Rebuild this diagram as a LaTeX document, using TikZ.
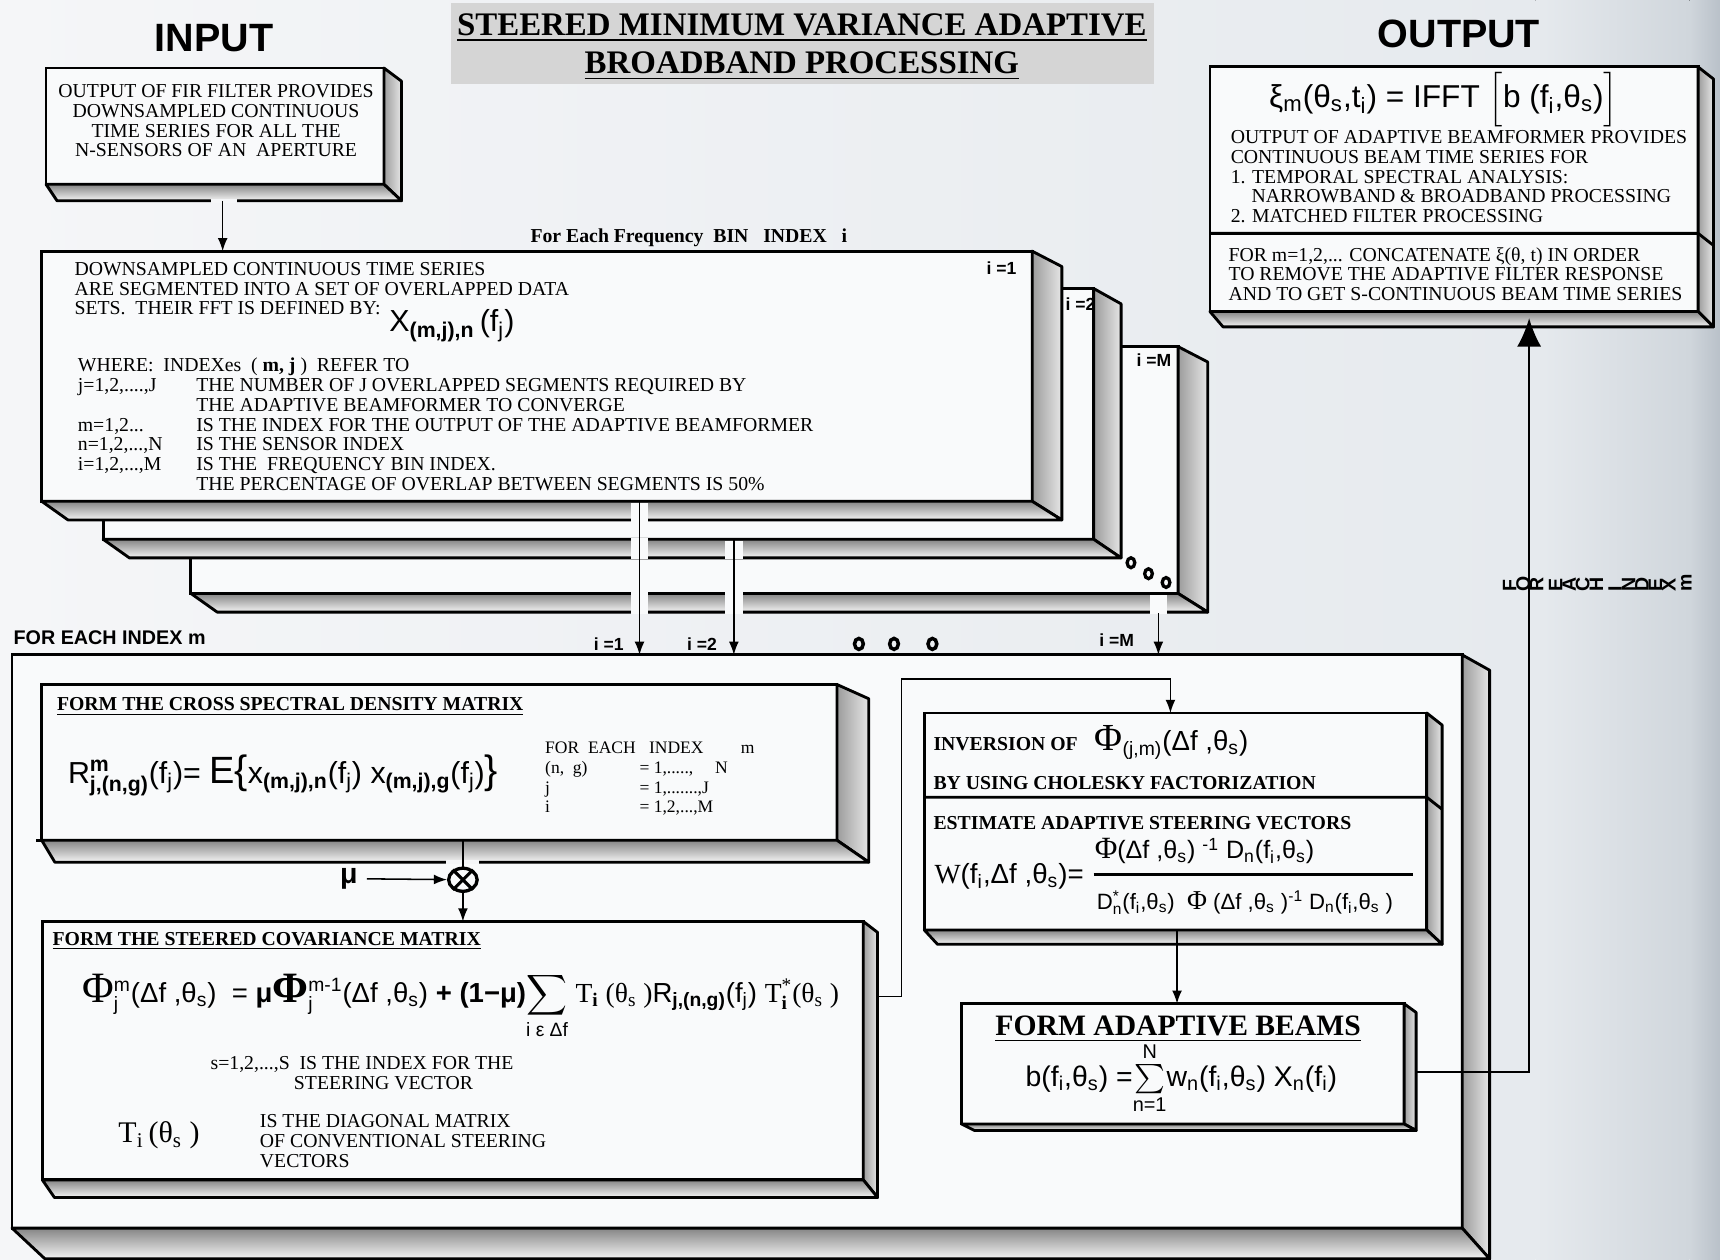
\documentclass[tikz,border=0pt]{standalone}
\usepackage{fontspec}
\setmainfont{Liberation Serif}
\newfontfamily\sfA{Liberation Sans}
\newfontfamily\rmA{Liberation Serif}
\usepackage{amsmath}
\usepackage{graphicx}
\usetikzlibrary{arrows.meta,calc,fit,shapes.geometric}

\definecolor{bgA}{HTML}{F5F6F8}
\definecolor{bgB}{HTML}{E6EAEE}
\definecolor{bgC}{HTML}{D0D6DC}
\definecolor{bgD}{HTML}{B9C1C9}
\definecolor{faceC}{HTML}{F9FAFB}
\definecolor{slabT}{HTML}{858585}
\definecolor{slabB}{HTML}{F4F4F4}
\definecolor{slabL}{HTML}{9C9C9C}
\definecolor{slabR}{HTML}{E6E6E6}
\definecolor{titleC}{HTML}{D5D5D5}

\newcommand\myb[1]{$_{\text{#1}}$}
\newcommand\myp[1]{$^{\text{#1}}$}
\newcommand\mybp[2]{$^{\text{#1}}_{\text{#2}}$}
\newcommand\rl[1]{\rotatebox{90}{#1}}
\newcommand\bigphi{{\rmA\fontsize{22}{22}\selectfont Φ}}
\newcommand\midphi{{\rmA\fontsize{18}{18}\selectfont Φ}}

\tikzset{
 face/.style={draw, line width=1.3pt, fill=faceC, inner sep=0pt, outer sep=0pt},
 sideslab/.style={draw, line width=1.3pt, line join=round, left color=slabL, right color=slabR},
 botslab/.style={draw, line width=1.3pt, line join=round, top color=slabT, bottom color=slabB},
 txt/.style={inner sep=0pt, outer sep=0pt, font=\fontsize{9}{9}\selectfont, anchor=base west},
 hdr/.style={inner sep=0pt, outer sep=0pt, font=\fontsize{9}{9}\selectfont\bfseries, anchor=base west},
 conn/.style={line width=0.7pt, -{Latex[length=6pt,width=4.5pt]}},
 plainline/.style={line width=0.7pt},
 lbl/.style={inner sep=0pt, font=\sfA\bfseries\fontsize{8}{8}\selectfont},
 frm/.style={inner sep=0pt, outer sep=0pt},
 bigl/.style={inner sep=0pt, font=\sfA\bfseries\fontsize{18}{18}\selectfont},
}

% name, x1, y1, x2, y2, side dx, bevel dy, bottom depth, bottom-left shift
\newcommand\boxthree[9]{%
 \node[face, fit={(#2,#3) (#4,#5)}] (#1) {};
 \draw[sideslab] (#1.north east) -- ++(#6,#7) -- ($(#1.south east)+(#6,#8)$) -- (#1.south east) -- cycle;
 \draw[botslab] (#1.south west) -- (#1.south east) -- ($(#1.south east)+(#6,#8)$) -- ($(#1.south west)+(#9,#8)$) -- cycle;
}

\begin{document}
\begin{tikzpicture}[x=0.5pt,y=-0.5pt]
\useasboundingbox (0,0) rectangle (1568,1148);
\fill[left color=bgA, right color=bgB] (0,0) rectangle (1400,1148);
\fill[left color=bgB, right color=bgC] (1400,0) rectangle (1540,1148);
\fill[left color=bgC, right color=bgD] (1540,0) rectangle (1568,1148);

% title
\fill[titleC] (411,3) rectangle (1052,77);
\node[inner sep=0pt, anchor=base, font=\fontsize{15}{17.5}\selectfont\bfseries] (title) at (731,32)
 {\begin{tabular}[t]{@{}c@{}}\underline{STEERED MINIMUM VARIANCE ADAPTIVE}\\\underline{BROADBAND PROCESSING}\end{tabular}};

\node[bigl] (inlab) at (195,35) {INPUT};
\node[bigl] (outlab) at (1330,31) {OUTPUT};

% output box
\boxthree{outb}{1103}{61}{1548}{284}{14}{11}{14}{12}
\draw[line width=1.3pt] (1103,212.7) -- (1548,212.7) -- ++(14,11);

% input box
\boxthree{inp}{42}{62}{350}{168}{16}{12}{15}{10}

% stack of frequency-bin boxes
\boxthree{s3}{174}{316}{1074}{541}{27}{14}{17}{24}
\boxthree{s2}{94}{263}{997}{491.6}{25}{14}{17}{24}
\boxthree{s1}{38}{229}{941}{457}{27}{14}{17}{24}
\fill[faceC] (575,458.6) rectangle (591,475.5);
\fill[faceC] (575,490) rectangle (591,510);
\fill[faceC] (575,539.5) rectangle (591,559.5);
\fill[faceC] (661,493.2) rectangle (677,510);
\fill[faceC] (661,539.5) rectangle (677,559.5);
\fill[faceC] (1048,542.6) rectangle (1064,559.5);
\foreach \dx/\dy in {1031/513,1047/523,1063/531}
  \draw[line width=1.5pt] (\dx,\dy) ellipse [x radius=3.5, y radius=4.5];

% big box and inner boxes
\boxthree{big}{11}{597}{1333}{1119.6}{25}{14}{28}{30}
\boxthree{csd}{38}{624}{763}{766}{29}{13}{20}{12}
\draw[line width=1.3pt] (33,766) -- (csd.south west);
\boxthree{stc}{38.6}{840}{787}{1075.6}{13}{10}{16}{11}
\boxthree{inv}{842.6}{650}{1300.7}{847.8}{14}{11}{13}{12}
\draw[line width=1.3pt] (842.6,726.8) -- (1300.7,726.8) -- ++(14,11);
\boxthree{bms}{876.4}{915}{1280}{1024.6}{11}{8}{6}{12}

% gaps in slab bottoms
\draw[bgA, line width=2pt] (192,183) -- (216,183);
\draw[bgA, line width=2pt] (407,786) -- (437,786);

% connectors
\coordinate (inpOut) at (203,183);
\draw[conn] (inpOut) -- (inpOut |- s1.north);
\coordinate (xa) at (583,0);
\coordinate (xb) at (669,0);
\coordinate (sMout) at (1056,559);
\draw[conn] (xa |- s1.south) -- (xa |- big.north);
\draw[conn] (xb |- s2.south) -- (xb |- big.north);
\draw[conn] (sMout) -- (sMout |- big.north);

\node[ellipse, draw, line width=1.5pt, minimum width=13pt, minimum height=10.5pt, inner sep=0pt, fill=faceC] (otimes) at (422,802) {};
\draw[line width=1.4pt] (otimes.45) -- (otimes.225) (otimes.135) -- (otimes.315);
\node[inner sep=4pt, font=\sfA\bfseries\fontsize{13}{13}\selectfont] (mu) at (318,801) {μ};
\draw[plainline] (otimes |- csd.south) -- (otimes.north);
\draw[conn] (mu) -- (otimes);
\draw[conn] (otimes.south) -- (otimes.south |- stc.north);

\coordinate (stcOut) at (800,908.5);
\coordinate (bendA) at (822,619);
\coordinate (invx) at (1067,0);
\draw[conn] (stcOut) -| (bendA) -| (invx |- inv.north);
\coordinate (bmx) at (1073,0);
\draw[conn] (bmx |- inv.south) -- (bmx |- bms.north);
\coordinate (bmsOut) at (1291,977);
\coordinate (upx) at (1394,0);
\draw[line width=0.9pt, -{Latex[length=13pt,width=11pt]}] (bmsOut) -| ($(upx |- outb.south)+(0,6)$);

% ---- texts ----
\node[txt, anchor=base] (inT) at (197,89) {\begin{tabular}[t]{@{}c@{}}OUTPUT OF FIR FILTER PROVIDES\\DOWNSAMPLED CONTINUOUS\\TIME SERIES FOR ALL THE\\N-SENSORS OF AN\ \ APERTURE\end{tabular}};

\node[frm] (oF) at (1316,91) {\resizebox{159pt}{!}{\sfA\fontsize{15}{15}\selectfont ξ\myb{m}(θ\myb{s},t\myb{i}) = IFFT $\Big[$b (f\myb{i},θ\myb{s})$\Big]$}};
\node[txt] (oA) at (1122,131) {\begin{tabular}[t]{@{}l@{}}OUTPUT OF ADAPTIVE BEAMFORMER PROVIDES\\CONTINUOUS BEAM TIME SERIES FOR\\1. TEMPORAL SPECTRAL ANALYSIS:\\\hspace*{9.5pt}NARROWBAND \& BROADBAND PROCESSING\\2. MATCHED FILTER PROCESSING\end{tabular}};
\node[txt] (oB) at (1120,238) {\begin{tabular}[t]{@{}l@{}}FOR m=1,2,... CONCATENATE ξ(θ, t) IN ORDER\\TO REMOVE THE ADAPTIVE FILTER RESPONSE\\AND TO GET S-CONTINUOUS BEAM TIME SERIES\end{tabular}};

\node[hdr, anchor=base] (freqH) at (628,221) {For Each Frequency\ \ BIN\ \ \ INDEX\ \ \ i};

\node[lbl] (l1) at (913,244) {i =1};
\node[lbl] (l2) at (985,277) {i =2};
\node[lbl] (l3) at (1052,328) {i =M};

\node[txt] (sA) at (68,251) {\begin{tabular}[t]{@{}l@{}}DOWNSAMPLED CONTINUOUS TIME SERIES\\ARE SEGMENTED INTO A SET OF OVERLAPPED DATA\\SETS.\ \ THEIR FFT IS DEFINED BY:\end{tabular}};
\node[frm] (xF) at (412,297) {\resizebox{57pt}{!}{\sfA\fontsize{13}{13}\selectfont X\myb{\bfseries (m,j),n}\,(f\myb{j})}};
\node[txt] (sB) at (71,339) {\begin{tabular}[t]{@{}p{54pt}@{}l@{}}\multicolumn{2}{@{}l@{}}{WHERE:\ \ INDEXes\ \ ( \textbf{m, j} )\ \ REFER TO}\\
j=1,2,....,J & THE NUMBER OF J OVERLAPPED SEGMENTS REQUIRED BY\\
 & THE ADAPTIVE BEAMFORMER TO CONVERGE\\
m=1,2... & IS THE INDEX FOR THE OUTPUT OF THE ADAPTIVE BEAMFORMER\\
n=1,2,...,N & IS THE SENSOR INDEX\\
i=1,2,...,M & IS THE\ \ FREQUENCY BIN INDEX.\\
 & THE PERCENTAGE OF OVERLAP BETWEEN SEGMENTS IS 50\%\end{tabular}};

\node[lbl, anchor=west, font=\sfA\bfseries\fontsize{9}{9}\selectfont] (forM) at (12,581) {FOR EACH INDEX m};
\node[lbl] (b1) at (555,587) {i =1};
\node[lbl] (b2) at (640,587) {i =2};
\node[lbl] (b3) at (1018,584) {i =M};
\foreach \dx in {783,815,850}
  \draw[line width=1.6pt] (\dx,587) ellipse [x radius=4, y radius=5];

% CSD box
\node[hdr] (csdH) at (52,648) {\underline{FORM THE CROSS SPECTRAL DENSITY MATRIX}};
\node[frm] (csdF) at (258,707) {\resizebox{196pt}{!}{\sfA\fontsize{16}{16}\selectfont R\mybp{\bfseries m}{\bfseries j,(n,g)}(f\myb{j})= \scalebox{1.25}{E}\scalebox{1.3}{\{}x\myb{\bfseries (m,j),n}(f\myb{j}) x\myb{\bfseries (m,j),g}(f\myb{j})\scalebox{1.3}{\}}}};
\node[txt, font=\fontsize{8}{9}\selectfont] (csdR) at (497,687) {\begin{tabular}[t]{@{}p{43pt}@{}l@{}}\multicolumn{2}{@{}l@{}}{FOR\ \ EACH\ \ \ INDEX\hspace{17pt}m}\\
(n,\ \ g) & = 1,.....,\hspace{10pt}N\\
j & = 1,.......,J\\
i & = 1,2,...,M\end{tabular}};

% steered covariance box
\node[hdr] (stcH) at (48,862) {\underline{FORM THE STEERED COVARIANCE MATRIX}};
\node[frm] (stcF) at (420,917) {\resizebox{345pt}{!}{\sfA\fontsize{14}{14}\selectfont
\bigphi\mybp{m}{j}(Δf ,θ\myb{s})\ \ = {\bfseries μ}{\rmA\fontsize{22}{22}\selectfont\bfseries Φ}\mybp{m-1}{j}(Δf ,θ\myb{s}) {\bfseries + (1−μ)}$\displaystyle\sum_{\text{i ε Δf}}$ {\rmA T\myb{\bfseries i} (θ\myb{s} )}R\myb{\bfseries j,(n,g)}(f\myb{j}) {\rmA T\mybp{*}{\bfseries i}(θ\myb{s} )}}};
\node[txt] (stcS) at (192,975) {\begin{tabular}[t]{@{}l@{}}s=1,2,...,S\ \ IS THE INDEX FOR THE\\\hspace*{38pt}STEERING VECTOR\end{tabular}};
\node[frm] (stcTF) at (145,1035) {\resizebox{37pt}{!}{\rmA\fontsize{14}{14}\selectfont T\myb{i}\,(θ\myb{s} )}};
\node[txt] (stcT) at (237,1028) {\begin{tabular}[t]{@{}l@{}}IS THE DIAGONAL MATRIX\\OF CONVENTIONAL STEERING\\VECTORS\end{tabular}};

% inversion / estimate box
\node[hdr] (invH) at (851,684) {INVERSION OF};
\node[frm] (invF) at (1068,677) {\resizebox{70pt}{!}{\sfA\fontsize{13}{13}\selectfont\midphi\myb{(j,m)}(Δf ,θ\myb{s})}};
\node[hdr] (invH2) at (851,720) {BY USING CHOLESKY FACTORIZATION};
\node[hdr] (estH) at (851,756) {ESTIMATE ADAPTIVE STEERING VECTORS};
\node[frm] (wF) at (920,799) {\resizebox{68pt}{!}{\sfA\fontsize{13}{13}\selectfont{\rmA W}(f\myb{i},Δf ,θ\myb{s})=}};
\node[frm] (numF) at (1098,776) {\resizebox{100pt}{!}{\sfA\fontsize{13}{13}\selectfont{\rmA\fontsize{16}{16}\selectfont Φ}(Δf ,θ\myb{s}) \myp{-1} D\myb{n}(f\myb{i},θ\myb{s})}};
\draw[line width=1.2pt] (997,797) -- (1288,797);
\node[frm] (denF) at (1135,823) {\resizebox{135pt}{!}{\sfA\fontsize{13}{13}\selectfont D\mybp{*}{n}(f\myb{i},θ\myb{s})\ \ {\rmA\fontsize{16}{16}\selectfont Φ} (Δf ,θ\myb{s} )\myp{-1} D\myb{n}(f\myb{i},θ\myb{s} )}};

% beams box
\node[inner sep=0pt, anchor=base, font=\fontsize{13.5}{14}\selectfont\bfseries] (bmsH) at (1074,944) {\underline{FORM ADAPTIVE BEAMS}};
\node[frm] (bmsF) at (1077,983) {\resizebox{142pt}{!}{\sfA\fontsize{14}{14}\selectfont b(f\myb{i},θ\myb{s}) =$\sum\limits_{\text{n=1}}^{\text{N}}$w\myb{n}(f\myb{i},θ\myb{s}) X\myb{n}(f\myb{i})}};

% sideways label
\node[frm] (vtxt) at (1456,531) {\resizebox{86pt}{!}{\sfA\bfseries\fontsize{9}{9}\selectfont\rl{F}\rl{O}\rl{R}\ \rl{E}\rl{A}\rl{C}\rl{H}\ \rl{I}\rl{N}\rl{D}\rl{E}\rl{X}\ \rl{m}}};
\end{tikzpicture}
\end{document}
